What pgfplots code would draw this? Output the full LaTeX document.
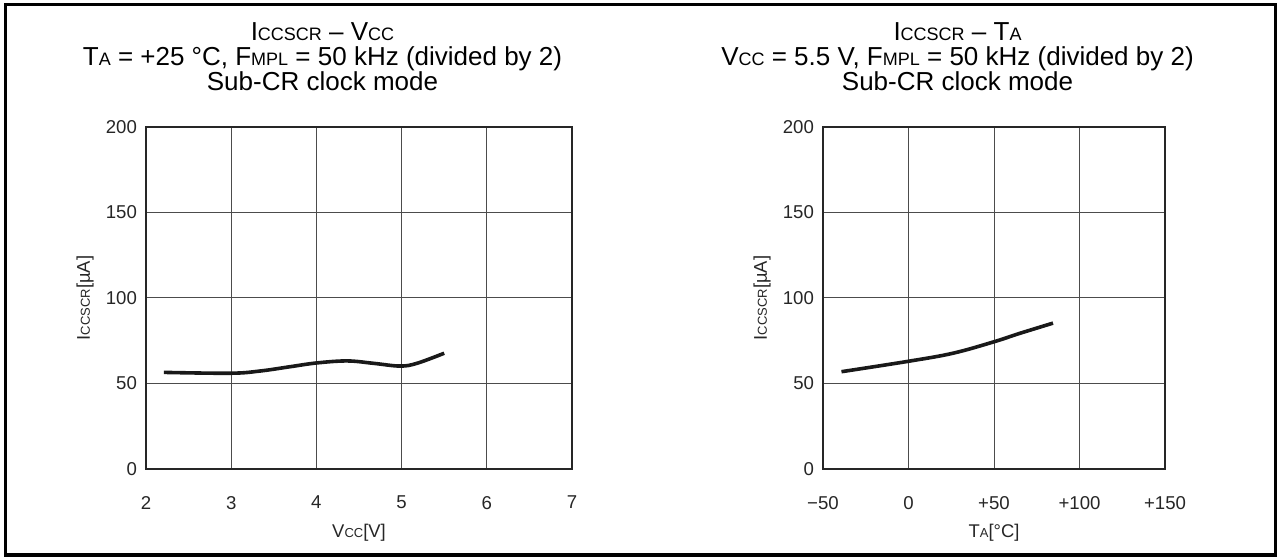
\documentclass[border=0pt]{standalone}
\usepackage{fontspec}
\setmainfont{Liberation Sans}
\usepackage{pgfplots}
\pgfplotsset{compat=1.18}
\newcommand\tsub[1]{{\fontsize{9}{10}\selectfont #1}}
\newcommand\asub[1]{{\fontsize{6.5}{7}\selectfont #1}}
\pgfplotsset{
  myax/.style={
    scale only axis, height=171pt,
    ymin=0, ymax=200, ytick={0,50,100,150,200},
    yticklabels={0,50,100,150,200},
    grid=major,
    major grid style={draw=black!70, line width=0.5pt},
    axis line style={line width=1.1pt, black!85},
    tick style={draw=none},
    tick label style={font=\fontsize{9.3}{10}\selectfont, text=black!85},
    xticklabel style={yshift=-10pt},
    yticklabel style={xshift=-1pt},
    label style={font=\fontsize{9.2}{10}\selectfont, text=black!85},
    clip=false,
  }
}
\begin{document}
\begin{tikzpicture}
\useasboundingbox (0,0) rectangle (640pt,278.5pt);
\draw[line width=1.5pt] (2.5pt,1pt) rectangle (637.5pt,276pt);
\begin{scope}[every node/.style={font=\fontsize{13}{14}\selectfont, anchor=base, inner sep=0pt}]
\node at (161.25pt,258pt) {I\tsub{CCSCR} – V\tsub{CC}};
\node at (161.25pt,245.5pt) {T\tsub{A} = +25 °C, F\tsub{MPL} = 50 kHz (divided by 2)};
\node at (161.25pt,233pt) {Sub-CR clock mode};
\node at (478.75pt,258pt) {I\tsub{CCSCR} – T\tsub{A}};
\node at (478.75pt,245.5pt) {V\tsub{CC} = 5.5 V, F\tsub{MPL} = 50 kHz (divided by 2)};
\node at (478.75pt,233pt) {Sub-CR clock mode};
\end{scope}
\begin{axis}[myax, at={(73pt,44pt)}, anchor=south west, width=213pt,
  xmin=2, xmax=7, xtick={2,3,4,5,6,7}, xticklabels={2,3,4,5,6,7},
  xlabel={V\asub{CC}[V]},
  ylabel={I\asub{CCSCR}[µA]},
  xlabel style={at={(axis description cs:0.5,-0.187)}, anchor=center},
  ylabel style={at={(axis description cs:-0.143,0.5)}, anchor=center},
]
\addplot[smooth, line width=1.8pt, black!90, tension=0.6] coordinates {
(2.21,56.5) (2.99,56.0) (3.34,57.3) (3.69,59.8) (4.0,62.0) (4.36,63.2) (4.67,61.8) (4.98,60.2) (5.18,61.8) (5.5,67.7)
};
\end{axis}
\begin{axis}[myax, at={(411.5pt,44pt)}, anchor=south west, width=171pt,
  xmin=-50, xmax=150, xtick={-50,0,50,100,150}, xticklabels={−50,0,+50,+100,+150},
  xlabel={T\asub{A}[°C]},
  ylabel={I\asub{CCSCR}[µA]},
  xlabel style={at={(axis description cs:0.5,-0.187)}, anchor=center},
  ylabel style={at={(axis description cs:-0.178,0.5)}, anchor=center},
]
\addplot[smooth, line width=1.8pt, black!90, tension=0.6] coordinates {
(-39.2,56.9) (0,63.0) (26,67.7) (50,74.4) (65,79.3) (84.5,85.3)
};
\end{axis}
\end{tikzpicture}
\end{document}
